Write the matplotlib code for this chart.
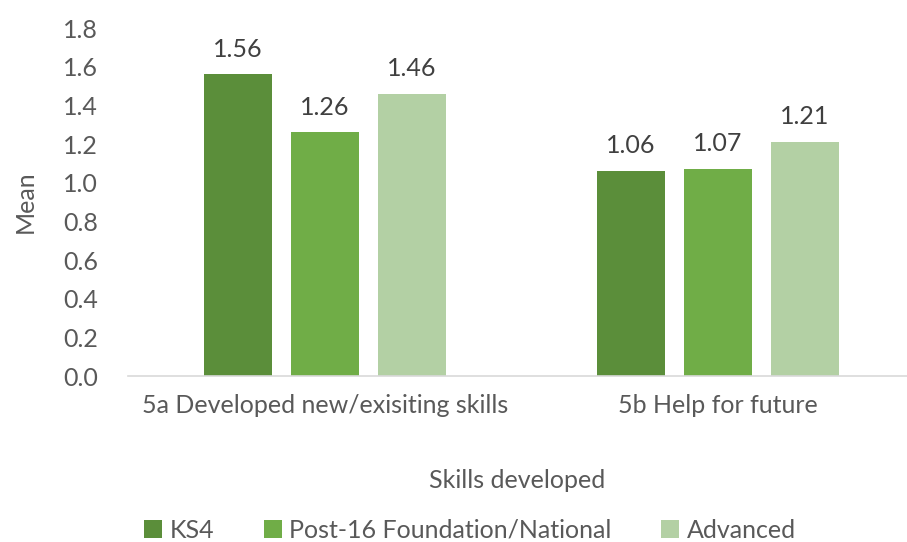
import matplotlib
matplotlib.use("Agg")
import matplotlib.pyplot as plt
import numpy as np

categories = ["5a Developed new/exisiting skills", "5b Help for future"]
series_names = ["KS4", "Post-16 Foundation/National", "Advanced"]
ks4 = [1.56, 1.06]
post16 = [1.26, 1.07]
advanced = [1.46, 1.21]
yticks = [0.0, 0.2, 0.4, 0.6, 0.8, 1.0, 1.2, 1.4, 1.6, 1.8]

colors = ["#5B8E3A", "#70AD47", "#B3D0A4"]
text_color = "#595959"
fs = 18

plt.rcParams['font.family'] = ['Lato', 'DejaVu Sans']

fig = plt.figure(figsize=(9.07, 5.42), dpi=100)
ax = fig.add_axes([128.5/907, 1-376/542, 1-128.5/907, (376-28)/542])

x = np.arange(len(categories))
width = 0.173
step = 0.2214
for i, (vals, name) in enumerate(zip([ks4, post16, advanced], series_names)):
    pos = x + (i - 1) * step
    bars = ax.bar(pos, vals, width, color=colors[i], label=name, zorder=2)
    for b, v in zip(bars, vals):
        ax.annotate(f"{v:.2f}", (b.get_x() + b.get_width()/2, v),
                    xytext=(0, 10), textcoords="offset points",
                    ha="center", va="bottom", fontsize=fs, color="#404040")

ax.set_xlim(-0.5, (907-325)/393)
ax.set_ylim(0, 1.8)
ax.set_yticks(yticks)
ax.set_yticklabels([f"{t:.1f}" for t in yticks])
ax.set_xticks(x)
ax.set_xticklabels(categories)
ax.tick_params(axis='both', length=0, labelsize=fs, colors=text_color)
ax.tick_params(axis='y', pad=22)
ax.tick_params(axis='x', pad=13)
for s in ["top", "right", "left"]:
    ax.spines[s].set_visible(False)
ax.spines["bottom"].set_color("#D9D9D9")
ax.spines["bottom"].set_linewidth(1.2)

fig.text(25/907, 1-202/542, "Mean", rotation=90, ha="center", va="center",
         fontsize=fs, color=text_color)
fig.text(517/907, 1-481/542, "Skills developed", ha="center", va="center",
         fontsize=fs, color=text_color)

handles, labels = ax.get_legend_handles_labels()
fig.legend(handles, labels, loc="center", bbox_to_anchor=(470/907, 1-530/542),
           ncol=3, frameon=False, fontsize=fs, labelcolor=text_color,
           handlelength=0.7, handleheight=0.7, handletextpad=0.3, columnspacing=2.0)

fig.savefig("out.png", dpi=100)
